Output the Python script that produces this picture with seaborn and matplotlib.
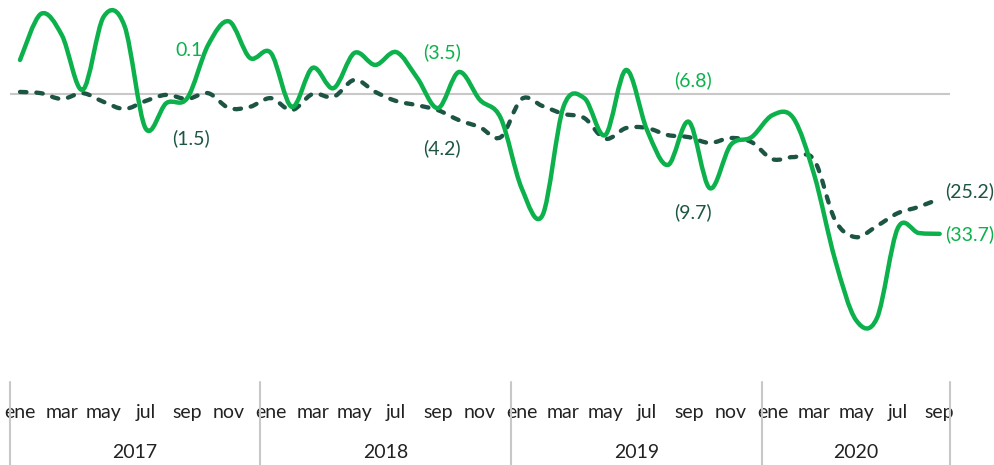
import numpy as np
import matplotlib
matplotlib.use("Agg")
import matplotlib.pyplot as plt
import matplotlib.transforms as mtransforms
from matplotlib.path import Path
from matplotlib.patches import PathPatch
import seaborn as sns

# Datos mensuales ene-2017 .. sep-2020 (variación %)
years = ["2017", "2018", "2019", "2020"]
month_names = ["ene", "feb", "mar", "abr", "may", "jun",
               "jul", "ago", "sep", "oct", "nov", "dic"]
serie_verde = [8.2, 19.3, 14.2, 1.0, 18.6, 16.4, -8.2, -2.2, -1.0, 11.8, 17.5, 8.7,
               9.9, -3.1, 6.3, 1.4, 9.9, 7.0, 10.1, 3.9, -3.4, 5.3, -1.4, -5.8,
               -22.7, -29.2, -3.1, -1.0, -9.9, 5.8, -8.7, -17.1, -6.7, -22.7, -12.3, -10.4,
               -5.1, -5.8, -19.5, -40.0, -54.5, -54.0, -32.3, -33.5, -33.7]
serie_oscura = [0.5, 0.2, -1.2, 0.2, -1.9, -3.6, -1.7, -0.2, -1.2, 0.2, -3.4, -3.1,
                -1.0, -3.9, 0.0, -0.7, 3.4, 0.5, -1.7, -2.7, -3.9, -6.3, -8.0, -10.4,
                -1.2, -2.9, -4.8, -5.8, -10.8, -8.2, -8.2, -9.9, -10.4, -11.8, -10.6, -11.6,
                -15.7, -15.2, -15.9, -30.4, -34.5, -31.8, -28.7, -27.2, -25.2]
# etiquetas de promedios anuales: (indice mes, valor de posicion, texto)
etiquetas_verde = [(8.1, 10.6, "0.1"), (20.2, 10.1, "(3.5)"), (32.2, 3.4, "(6.8)")]
etiquetas_oscura = [(8.2, -10.6, "(1.5)"), (20.2, -13.0, "(4.2)"), (32.2, -28.4, "(9.7)")]
fin_verde = "(33.7)"
fin_oscura = "(25.2)"

VERDE = "#0cb14b"
OSCURO = "#1d5545"
GRIS = "#c8c8c8"


def smooth_path(ys):
    """Curva suavizada tipo Excel (Bezier por tramos) sobre los puntos."""
    xs = np.arange(len(ys), dtype=float)
    ys = np.asarray(ys, dtype=float)
    pts = np.column_stack([xs, ys])
    verts = [pts[0]]
    codes = [Path.MOVETO]
    n = len(pts)
    for i in range(n - 1):
        p0 = pts[i - 1] if i > 0 else pts[i]
        p1 = pts[i]
        p2 = pts[i + 1]
        p3 = pts[i + 2] if i + 2 < n else pts[i + 1]
        c1 = p1 + (p2 - p0) / 6.0
        c2 = p2 - (p3 - p1) / 6.0
        verts += [c1, c2, p2]
        codes += [Path.CURVE4] * 3
    return Path(verts, codes)


sns.set_style("white")
plt.rcParams["font.family"] = ["Lato", "DejaVu Sans"]

fig = plt.figure(figsize=(9.94, 4.65), dpi=100)
ax = fig.add_axes([0, 105 / 465, 1, 360 / 465])
ax.set_xlim(-0.957, 46.6)
ax.set_ylim(-64.1, 22.65)
for s in ax.spines.values():
    s.set_visible(False)
ax.set_yticks([])

n = len(serie_verde)
# linea base
ax.hlines(0, -0.5, n - 0.5, color=GRIS, lw=1.5, zorder=1)

# etiquetas (debajo de las lineas)
for x, y, t in etiquetas_verde:
    ax.text(x, y, t, color=VERDE, fontsize=14, ha="center", va="center", zorder=2)
for x, y, t in etiquetas_oscura:
    ax.text(x, y, t, color=OSCURO, fontsize=14, ha="center", va="center", zorder=2)
ax.text(n - 1 + 0.25, serie_verde[-1], fin_verde, color=VERDE, fontsize=14,
        ha="left", va="center")
ax.text(n - 1 + 0.25, serie_oscura[-1] + 1.8, fin_oscura, color=OSCURO, fontsize=14,
        ha="left", va="center")

# series (lineas suavizadas)
ax.add_patch(PathPatch(smooth_path(serie_oscura), fill=False, edgecolor=OSCURO,
                       lw=3.1, linestyle=(0, (1.5, 2.3)), capstyle="round", zorder=3))
ax.add_patch(PathPatch(smooth_path(serie_verde), fill=False, edgecolor=VERDE,
                       lw=3.2, capstyle="round", joinstyle="round", zorder=4))

# eje x: meses
ticks = list(range(0, n, 2))
ax.set_xticks(ticks)
ax.set_xticklabels([month_names[i % 12] for i in ticks], fontsize=14, color="#222222")
ax.tick_params(axis="x", length=0, pad=32)

# separadores y años
trans = mtransforms.blended_transform_factory(ax.transData, ax.transAxes)
for b in [-0.5, 11.5, 23.5, 35.5, n - 0.5]:
    ax.plot([b, b], [-0.061, -0.295], color=GRIS, lw=1.5, transform=trans, clip_on=False)
for k, yr in enumerate(years):
    start = k * 12 - 0.5
    end = min(start + 12, n - 0.5)
    ax.text((start + end) / 2, -0.256, yr, transform=trans, fontsize=14,
            color="#222222", ha="center", va="center")

fig.savefig("out.png", dpi=100)
